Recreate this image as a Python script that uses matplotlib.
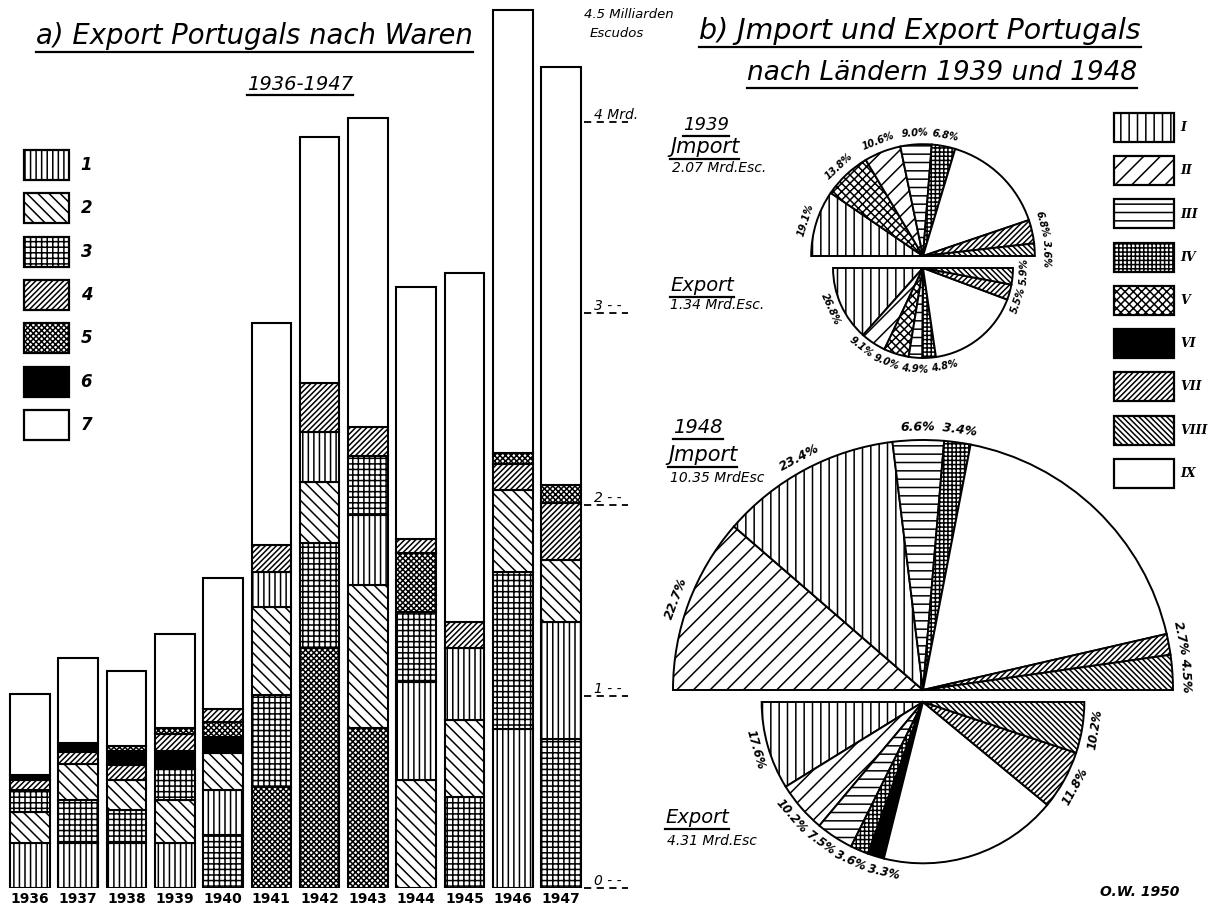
import numpy as np
import matplotlib
matplotlib.use("Agg")
import matplotlib.pyplot as plt
from matplotlib.patches import Patch, Wedge
from matplotlib.lines import Line2D
from matplotlib.transforms import IdentityTransform

plt.rcParams["font.family"] = ["DejaVu Sans"]
plt.rcParams["hatch.linewidth"] = 1.1

# a) Export Portugals nach Waren, Mrd. Escudos (read off the bars)
years = ["1936", "1937", "1938", "1939", "1940", "1941",
         "1942", "1943", "1944", "1945", "1946", "1947"]
goods_labels = ["1", "2", "3", "4", "5", "6", "7"]
goods_1 = [0.233, 0.235, 0.237, 0.237, 0.235, 0.183, 0.261, 0.366, 0.513, 0.374, 0.830, 0.614]
goods_2 = [0.165, 0.188, 0.157, 0.223, 0.192, 0.460, 0.319, 0.748, 0.564, 0.400, 0.430, 0.322]
goods_3 = [0.113, 0.226, 0.171, 0.160, 0.277, 0.480, 0.548, 0.308, 0.366, 0.477, 0.820, 0.776]
goods_4 = [0.052, 0.061, 0.075, 0.090, 0.070, 0.141, 0.256, 0.153, 0.070, 0.139, 0.136, 0.296]
goods_5 = [0.0, 0.0, 0.026, 0.035, 0.074, 0.529, 1.252, 0.834, 0.308, 0.0, 0.056, 0.096]
goods_6 = [0.026, 0.047, 0.073, 0.093, 0.087, 0.0, 0.0, 0.0, 0.0, 0.0, 0.0, 0.0]
goods_7 = [0.425, 0.442, 0.395, 0.489, 0.686, 1.159, 1.283, 1.610, 1.319, 1.822, 2.313, 2.183]
scale_ticks = [0, 1, 2, 3, 4]
scale_labels = ["0 - -", "1 - -", "2 - -", "3 - -", "4 Mrd."]

# b) Import und Export nach Laendern, percent of total
country_labels = ["I", "II", "III", "IV", "V", "VI", "VII", "VIII", "IX"]
imp39_countries = ["I", "V", "II", "III", "IV", "IX", "VII", "VIII"]
imp39_pct = [19.1, 13.8, 10.6, 9.0, 6.8, 30.3, 6.8, 3.6]
imp39_total = 2.07
exp39_countries = ["I", "II", "V", "III", "IV", "IX", "VII", "VIII"]
exp39_pct = [26.8, 9.1, 9.0, 4.9, 4.8, 34.0, 5.5, 5.9]
exp39_total = 1.34
imp48_countries = ["II", "I", "III", "IV", "IX", "VII", "VIII"]
imp48_pct = [22.7, 23.4, 6.6, 3.4, 36.7, 2.7, 4.5]
imp48_total = 10.35
exp48_countries = ["I", "II", "III", "IV", "VI", "IX", "VII", "VIII"]
exp48_pct = [17.6, 10.2, 7.5, 3.6, 3.3, 35.8, 11.8, 10.2]
exp48_total = 4.31

goods_hatch = ["|||", "\\\\\\", "+++", "//////", "xxxxxx", "", ""]
goods_face = ["white", "white", "white", "white", "white", "black", "white"]
country_hatch = {"I": "||", "II": "//", "III": "--", "IV": "++++", "V": "xxxx",
                 "VI": "", "VII": "//////", "VIII": "\\\\\\\\\\\\", "IX": ""}
country_face = {c: ("black" if c == "VI" else "white") for c in country_labels}

W, H = 1216, 913
fig = plt.figure(figsize=(W / 100, H / 100), dpi=100)
underlined = []

# ---------------- left: stacked bars ----------------
ax = fig.add_axes([1 / W, (H - 888) / H, 589 / W, 881 / H])
vals = np.array([goods_1, goods_2, goods_3, goods_4, goods_5, goods_6, goods_7])
x = np.arange(len(years))
for j in x:
    # biggest group at the bottom, group 7 (rest) always on top
    order = sorted(range(6), key=lambda i: -vals[i, j]) + [6]
    bottom = 0.0
    for i in order:
        v = vals[i, j]
        if v <= 0:
            continue
        ax.bar(j, v, bottom=bottom, width=0.82, color=goods_face[i],
               hatch=goods_hatch[i], edgecolor="black", linewidth=1.5)
        bottom += v

ax.set_xlim(-0.6, 11.6)
ax.set_ylim(0, 4.6)
for s in ax.spines.values():
    s.set_visible(False)
ax.set_xticks(x)
ax.set_xticklabels(years, fontsize=10, fontweight="bold")
ax.tick_params(axis="x", length=0, pad=3)
ax.yaxis.tick_right()
ax.set_yticks(scale_ticks)
ax.set_yticklabels(scale_labels, fontsize=10, style="italic")
ax.tick_params(axis="y", length=0, pad=3)
for t in ax.get_yticklabels():
    t.set_va("bottom")
ax.hlines(scale_ticks, 0.99, 1.065, transform=ax.get_yaxis_transform(),
          colors="black", linestyles=(0, (4, 3)), lw=1.3, clip_on=False)
ax.text(0.99, 4.56, "4.5 Milliarden", transform=ax.get_yaxis_transform(),
        fontsize=9.5, style="italic", ha="left", va="center")
ax.text(1.0, 4.46, "Escudos", transform=ax.get_yaxis_transform(),
        fontsize=9.5, style="italic", ha="left", va="center")

handles = [Patch(facecolor=goods_face[i], hatch=goods_hatch[i], edgecolor="black", lw=1.6)
           for i in range(7)]
leg = ax.legend(handles, goods_labels, loc="upper left",
                bbox_to_anchor=(24 / W, 1 - 150 / H), bbox_transform=fig.transFigure,
                frameon=False, fontsize=12, handlelength=2.7, handleheight=2.39,
                labelspacing=0.8, handletextpad=0.7, borderpad=0, borderaxespad=0)
for t in leg.get_texts():
    t.set_style("italic")
    t.set_fontweight("bold")

t = fig.text(36 / W, 1 - 36 / H, "a) Export Portugals nach Waren", fontsize=19.8,
             style="italic", va="center", ha="left")
underlined.append(t)
t = fig.text(300 / W, 1 - 84 / H, "1936-1947", fontsize=14, style="italic",
             va="center", ha="center")
underlined.append(t)

# ---------------- right: half pies ----------------
ax2 = fig.add_axes([640 / W, 0, 576 / W, 1])
ax2.set_xlim(640, W)
ax2.set_ylim(0, H)
ax2.set_axis_off()
k = 250 / np.sqrt(10.35)  # pixel radius per sqrt(Mrd. Esc.)


def half_pie(cx, cy, total, countries, pct, upper, fs, off):
    r = k * np.sqrt(total)
    R = r + off
    cum = 0.0
    labels = []
    for c, p in zip(countries, pct):
        if upper:
            t1, t2 = 180 - (cum + p) * 1.8, 180 - cum * 1.8
        else:
            t1, t2 = 180 + cum * 1.8, 180 + (cum + p) * 1.8
        ax2.add_patch(Wedge((cx, H - cy), r, t1, t2, facecolor=country_face[c],
                            hatch=country_hatch[c], edgecolor="black", lw=1.4))
        if c != "IX":
            labels.append([(t1 + t2) / 2, f"{p:.1f}%"])
        cum += p
    # spread crowded labels along the arc, moving both neighbours a little
    sgn = -1 if upper else 1
    for _ in range(60):
        moved = False
        for a, b in zip(labels[:-1], labels[1:]):
            w = (len(a[1]) + len(b[1])) / 2 * 0.66 * fs * 1.39 + 4
            need = np.degrees(w / R)
            gap = sgn * (b[0] - a[0])
            if gap < need - 0.05:
                d = (need - gap) / 2
                a[0] -= sgn * d
                b[0] += sgn * d
                moved = True
        if not moved:
            break
    for m, s in labels:
        mr = np.radians(m)
        rot = m - 90 if upper else m + 90
        ax2.text(cx + R * np.cos(mr), H - cy + R * np.sin(mr), s, fontsize=fs,
                 style="italic", fontweight="bold", rotation=rot,
                 rotation_mode="anchor", ha="center", va="center")


half_pie(923, 256, imp39_total, imp39_countries, imp39_pct, True, 7, 11)
half_pie(923, 268, exp39_total, exp39_countries, exp39_pct, False, 7, 11)
half_pie(923, 690, imp48_total, imp48_countries, imp48_pct, True, 9, 13)
half_pie(923, 702, exp48_total, exp48_countries, exp48_pct, False, 8.5, 13)


def ptext(px, py, s, fs, ul=False, **kw):
    tt = ax2.text(px, H - py, s, fontsize=fs, style="italic", ha="left", va="center", **kw)
    if ul:
        underlined.append(tt)


ptext(683, 125, "1939", 13, True)
ptext(670, 147, "Jmport", 15, True)
ptext(672, 168, "2.07 Mrd.Esc.", 10)
ptext(670, 285, "Export", 14, True)
ptext(670, 305, "1.34 Mrd.Esc.", 10)
ptext(673, 427, "1948", 14, True)
ptext(668, 455, "Jmport", 15, True)
ptext(670, 478, "10.35 MrdEsc", 10)
ptext(665, 817, "Export", 14, True)
ptext(667, 841, "4.31 Mrd.Esc", 10)
ptext(1100, 892, "O.W. 1950", 10, fontweight="bold")

t = fig.text(699 / W, 1 - 31 / H, "b) Jmport und Export Portugals", fontsize=20.5,
             style="italic", va="center", ha="left")
underlined.append(t)
t = fig.text(747 / W, 1 - 73 / H, "nach Ländern 1939 und 1948", fontsize=19,
             style="italic", va="center", ha="left")
underlined.append(t)

chandles = [Patch(facecolor=country_face[c], hatch=country_hatch[c], edgecolor="black", lw=1.6)
            for c in country_labels]
leg2 = ax2.legend(chandles, country_labels, loc="upper left",
                  bbox_to_anchor=(1114 / W, 1 - 113 / H), bbox_transform=fig.transFigure,
                  frameon=False, handlelength=4.8, handleheight=3.19,
                  labelspacing=1.14, handletextpad=0.5, borderpad=0, borderaxespad=0,
                  prop=dict(family="DejaVu Serif", weight="bold", style="italic", size=9))

# underline the hand-lettered headings
renderer = fig.canvas.get_renderer()
for tt in underlined:
    bb = tt.get_window_extent(renderer)
    fig.add_artist(Line2D([bb.x0, bb.x1], [bb.y0 - 2, bb.y0 - 2], color="black",
                          lw=1.6, transform=IdentityTransform()))

fig.savefig("out.png", dpi=100)
